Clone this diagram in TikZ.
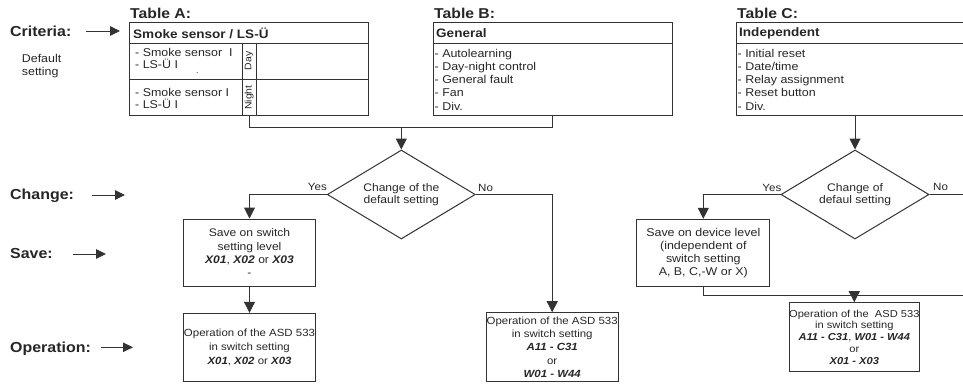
\documentclass[tikz,border=0pt]{standalone}
\usepackage{fontspec}
\setmainfont[FakeStretch=1.1]{Liberation Sans}
\usetikzlibrary{shapes.geometric,arrows.meta,calc}
\newcommand{\bi}[1]{\textbf{\textit{#1}}}
\begin{document}
\begin{tikzpicture}[x=1pt,y=-1pt,
  ln/.style={draw=black!80,line width=1pt},
  arr/.style={ln,-{Triangle[length=11pt,width=11pt]}},
  larr/.style={ln,-{Triangle[length=10pt,width=9.5pt]}},
  biglbl/.style={font=\fontsize{14.5}{16}\selectfont\bfseries,text=black!85,inner sep=0,anchor=base west},
  tbllbl/.style={font=\fontsize{14.3}{16}\selectfont\bfseries,text=black!85,inner sep=0,anchor=base west},
  tbl/.style={ln,rectangle,inner sep=0},
  hdr/.style={font=\fontsize{12.3}{14}\selectfont\bfseries,text=black!85,inner sep=0,anchor=west},
  lst/.style={font=\fontsize{11.3}{13.2}\selectfont,text=black!85,inner sep=0,align=left,anchor=north west},
  lstA/.style={font=\fontsize{11.3}{11.7}\selectfont,text=black!85,inner sep=0,align=left,anchor=north west},
  rot/.style={font=\fontsize{9.5}{11}\selectfont,text=black!85,inner sep=0,rotate=90},
  dec/.style={ln,diamond,minimum width=148pt,minimum height=89pt,inner sep=0,aspect=1.66,align=center,font=\fontsize{11}{12.5}\selectfont,text=black!85},
  box/.style={ln,rectangle,inner sep=0,align=center,text=black!85},
  yn/.style={font=\fontsize{10.5}{12}\selectfont,text=black!85,inner sep=0}
]
\path[use as bounding box] (0,0) rectangle (963,383);
\clip (0,0) rectangle (963,383);

% left labels
\node[biglbl] (crit) at (10,36) {Criteria:};
\node[lstA,font=\fontsize{11.3}{12.5}\selectfont] (dflt) at (21.7,54.5) {Default\\setting};
\node[biglbl] (chg) at (10,199.3) {Change:};
\node[biglbl] (sav) at (10,258.3) {Save:};
\node[biglbl] (opr) at (10,352.7) {Operation:};
\coordinate (ca1) at (86,31);    \coordinate (ca2) at (120,31);
\coordinate (cb1) at (92,195);   \coordinate (cb2) at (125,195);
\coordinate (cc1) at (73,254);   \coordinate (cc2) at (106,254);
\coordinate (cd1) at (100.7,347.3); \coordinate (cd2) at (133,347.3);
\draw[larr] (ca1) -- (ca2);
\draw[larr] (cb1) -- (cb2);
\draw[larr] (cc1) -- (cc2);
\draw[larr] (cd1) -- (cd2);

% table titles
\node[tbllbl] (lA) at (130,18.3) {Table A:};
\node[tbllbl] (lB) at (434,18.3) {Table B:};
\node[tbllbl] (lC) at (737,18.3) {Table C:};

% tables
\node[tbl,minimum width=239pt,minimum height=92.3pt] (tA) at (248.8,68.85) {};
\node[tbl,minimum width=239pt,minimum height=92.3pt] (tB) at (552.8,68.85) {};
\node[tbl,minimum width=238pt,minimum height=92.3pt] (tC) at (855,68.85) {};
\draw[ln] (tA.west |- 0,43.3) -- (tA.east |- 0,43.3);
\draw[ln] (tB.west |- 0,43.3) -- (tB.east |- 0,43.3);
\draw[ln] (tC.west |- 0,43.3) -- (tC.east |- 0,43.3);
\draw[ln] (tA.west |- 0,79) -- (tA.east |- 0,79);
\draw[ln] (242.3,43.3) -- (242.3,115);
\draw[ln] (256,43.3) -- (256,115);

\node[hdr] (hA) at (133,33) {Smoke sensor / LS-Ü};
\node[hdr] (hB) at (436,33) {General};
\node[hdr] (hC) at (739,33) {Independent};

\node[lstA] (a1) at (135,48.5) {- Smoke sensor\ \ I\\- LS-Ü I};
\node[lstA] (a2) at (135,88.5) {- Smoke sensor I\\- LS-Ü I};
\node[lst,font=\fontsize{8}{8}\selectfont] (dotA) at (196,72) {.};
\node[rot] (day) at (249.2,61) {Day};
\node[rot] (night) at (249.2,97.5) {Night};
\node[lst] (bl) at (434.5,49) {- Autolearning\\- Day-night control\\- General fault\\- Fan\\- Div.};
\node[lst] (cl) at (737.5,49) {- Initial reset\\- Date/time\\- Relay assignment\\- Reset button\\- Div.};

% decisions
\node[dec] (d1) at (401.3,194.5) {Change of the\\default setting};
\node[dec] (d2) at (855,194.5) {Change of\\defaul setting};
\node[yn,anchor=base east] (y1) at (327,190.5) {Yes};
\node[yn,anchor=base west] (n1) at (478,191.5) {No};
\node[yn,anchor=base east] (y2) at (781.5,191.5) {Yes};
\node[yn,anchor=base west] (n2) at (933,190.5) {No};

% boxes
\node[box,minimum width=132.4pt,minimum height=67.7pt,font=\fontsize{11}{13.3}\selectfont] (s1) at (249.5,252.85)
  {Save on switch\\setting level\\\bi{X01}, \bi{X02} or \bi{X03}\\-};
\node[box,minimum width=132.4pt,minimum height=68.2pt,font=\fontsize{10.4}{13.8}\selectfont] (o1) at (249.5,347.4)
  {Operation of the ASD 533\\in switch setting\\\bi{X01}, \bi{X02} or \bi{X03}};
\node[box,minimum width=132.3pt,minimum height=69pt,font=\fontsize{10.4}{13.2}\selectfont] (o2) at (552.2,347.2)
  {Operation of the ASD 533\\in switch setting\\\bi{A11 - C31}\\or\\\bi{W01 - W44}};
\node[box,minimum width=133.3pt,minimum height=66.7pt,font=\fontsize{11.3}{13}\selectfont] (s2) at (703.3,252.65)
  {Save on device level\\(independent of\\switch setting\\A, B, C,-W or X)};
\node[box,minimum width=127pt,minimum height=69pt,font=\fontsize{10.1}{11.9}\selectfont] (o3) at (854.3,337.2)
  {Operation of the\ \ ASD 533\\in switch setting\\\bi{A11 - C31}, \bi{W01 - W44}\\or\\\bi{X01 - X03}};

% connectors
\coordinate (aDN) at (249.3,115);
\coordinate (busA) at (249.3,127.7);
\coordinate (j1) at (401.3,127.7);
\draw[ln] (aDN) -- (busA) -| (tB.south);
\draw[arr] (j1) -- (d1.north);
\draw[arr] (tC.south) -- (d2.north);
\draw[arr] (d1.west) -| (s1.north);
\draw[arr] (d1.east) -| (o2.north);
\draw[arr] (s1.south) -- (o1.north);
\draw[arr] (d2.west) -| (s2.north);
\coordinate (rx) at (980,194.5);
\coordinate (busC) at (703.3,295.7);
\coordinate (busR) at (980,295.7);
\draw[ln] (d2.east) -- (rx) -- (busR) -- (busC) -- (s2.south);
\draw[arr] (o3.north |- busC) -- (o3.north);
\end{tikzpicture}
\end{document}
